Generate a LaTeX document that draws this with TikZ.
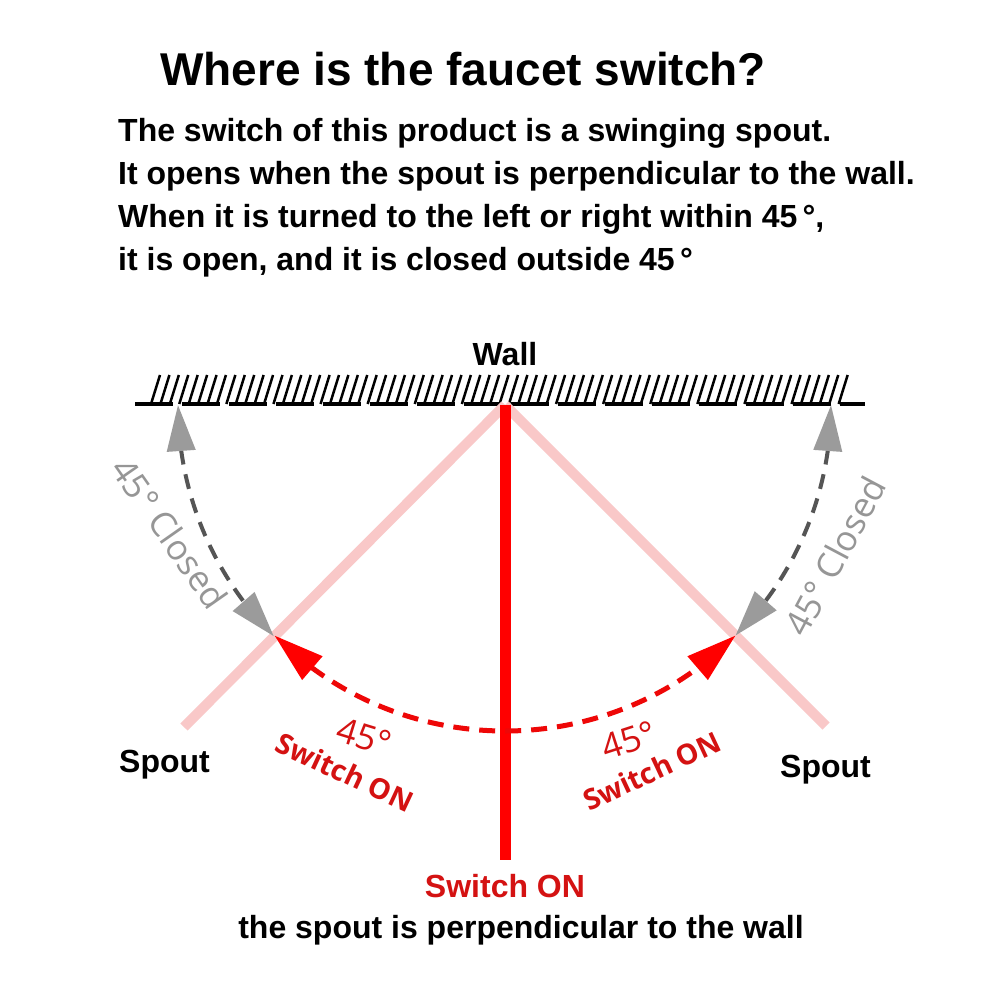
\documentclass[tikz,border=0pt]{standalone}
\usepackage{fontspec}
\setmainfont{Liberation Sans}
\newfontfamily\osans{Open Sans}
\usetikzlibrary{arrows.meta,bending,calc}
\definecolor{spoutpink}{RGB}{249,200,200}
\definecolor{linered}{RGB}{255,0,0}
\definecolor{txtred}{RGB}{212,18,18}
\definecolor{tipgray}{RGB}{155,155,155}
\definecolor{dashgray}{RGB}{85,85,85}
\definecolor{lblgray}{RGB}{150,150,150}
\tikzset{
  body/.style={inner sep=0pt, anchor=base west, font=\fontsize{32}{38}\selectfont\bfseries},
  label32/.style={inner sep=0pt, anchor=base, font=\fontsize{32}{38}\selectfont\bfseries},
  spoutline/.style={line width=10pt, spoutpink},
  mainline/.style={line width=11pt, linered},
  redarc/.style={line width=5pt, txtred!40!linered, dash pattern=on 16pt off 10pt,
    {Triangle[length=50pt,width=30pt,color=linered]}-{Triangle[length=50pt,width=30pt,color=linered]}},
  grayarc/.style={line width=4pt, dashgray, dash pattern=on 15pt off 10pt,
    {Triangle[length=46pt,width=28pt,color=tipgray]}-{Triangle[length=46pt,width=28pt,color=tipgray]}},
  graylbl/.style={inner sep=0pt, text=lblgray, font=\osans\fontsize{35}{40}\selectfont},
  redlbl/.style={inner sep=0pt, text=txtred, font=\osans\fontsize{35}{40}\selectfont},
  redlblb/.style={inner sep=0pt, text=txtred, font=\osans\bfseries\fontsize{28.5}{34}\selectfont},
  hatch/.style={line width=2.5pt, black},
  wallbase/.style={line width=3.2pt, black, dash pattern=on 38pt off 9pt},
}
\begin{document}
\begin{tikzpicture}[x=1pt,y=-1pt]
\useasboundingbox[fill=white] (0,0) rectangle (1000,1000);

% texts
\node[inner sep=0pt, anchor=base west, font=\fontsize{46}{52}\selectfont\bfseries] (title) at (160,86) {Where is the faucet switch?};
\node[body] (l1) at (118,142) {The switch of this product is a swinging spout.};
\node[body] (l2) at (118,185) {It opens when the spout is perpendicular to the wall.};
\node[body] (l3) at (118,228) {When it is turned to the left or right within 45\,°,};
\node[body] (l4) at (118,270) {it is open, and it is closed outside 45\,°};

\node[label32] (wall) at (505,365) {Wall};

% geometry
\coordinate (P) at (505,405);
\coordinate (Bot) at (505,860);
\coordinate (SL) at (184,727);
\coordinate (SR) at (826,726);
\coordinate (L45) at ($(P)+(135:326)$);
\coordinate (R45) at ($(P)+(45:326)$);
\coordinate (LW) at ($(P)+(180:327)$);
\coordinate (RW) at ($(P)+(0:326)$);

% wall
\draw[wallbase] (135,404) -- (865,404);
\foreach \i in {0,...,73}{
  \draw[hatch] (151+\i*9.42,404) -- ++(9,-29);
}

% spouts
\draw[spoutline] (P) -- (SL);
\draw[spoutline] (P) -- (SR);
\draw[mainline] (P) -- (Bot);

% arcs
\draw[grayarc] (LW) arc[start angle=180, end angle=135, radius=327];
\draw[grayarc] (RW) arc[start angle=0, end angle=45, radius=326];
\draw[redarc] (L45) arc[start angle=135, end angle=45, radius=326];

% labels
\node[graylbl, rotate=-55] (gl) at (170,533) {45° Closed};
\node[graylbl, rotate=62] (gr) at (835,556) {45° Closed};
\node[redlbl, rotate=-17] (rl45) at (364,737) {45°};
\node[redlblb, rotate=-25] (rlsw) at (345,772) {Switch ON};
\node[redlbl, rotate=18] (rr45) at (629,740) {45°};
\node[redlblb, rotate=25] (rrsw) at (652,771) {Switch ON};

\node[label32, anchor=base west] (spl) at (119,772) {Spout};
\node[label32, anchor=base west] (spr) at (780,777) {Spout};

\node[label32, text=txtred] (swon) at (505,897) {Switch ON};
\node[label32] (perp) at (521,938) {the spout is perpendicular to the wall};
\end{tikzpicture}
\end{document}
